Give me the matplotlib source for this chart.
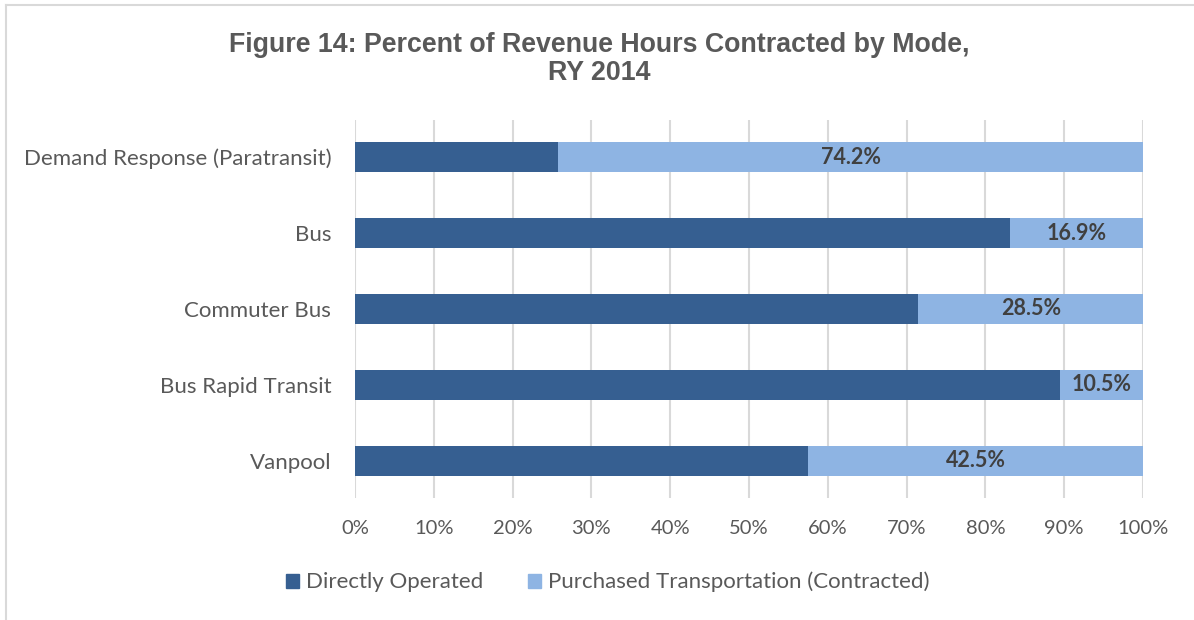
import matplotlib.pyplot as plt
from matplotlib.patches import Patch
from matplotlib.lines import Line2D
import numpy as np

# data
modes = ['Demand Response (Paratransit)', 'Bus', 'Commuter Bus',
         'Bus Rapid Transit', 'Vanpool']
contracted = [74.2, 16.9, 28.5, 10.5, 42.5]
direct = [round(100 - v, 1) for v in contracted]
xticks = [0, 10, 20, 30, 40, 50, 60, 70, 80, 90, 100]

dark = '#365F91'
light = '#8EB4E3'
label_font = 'Lato'

fig = plt.figure(figsize=(11.94, 6.2), dpi=100)
ax = fig.add_axes([0.2973, 0.1968, 0.6600, 0.6097])

y = np.arange(len(modes))
h = 0.39
ax.barh(y, direct, height=h, color=dark, zorder=3)
ax.barh(y, contracted, height=h, left=direct, color=light, zorder=3)

# data labels on contracted part
for yi, d, c in zip(y, direct, contracted):
    ax.text(d + c / 2, yi, f'{c:.1f}%', ha='center', va='center',
            fontsize=15.5, fontweight='bold', color='#404040',
            family=label_font, zorder=4)

ax.set_xlim(0, 100)
ax.set_ylim(len(modes) - 0.51, -0.49)
ax.set_xticks(xticks)
ax.set_xticklabels([f'{t}%' for t in xticks])
ax.set_yticks(y)
ax.set_yticklabels(modes)
ax.tick_params(axis='both', length=0, colors='#595959')
ax.tick_params(axis='y', pad=17, labelsize=16)
ax.tick_params(axis='x', pad=16, labelsize=14.5)
for lab in ax.get_xticklabels() + ax.get_yticklabels():
    lab.set_family(label_font)
ax.xaxis.grid(True, color='#D9D9D9', linewidth=1.5, zorder=0)
for s in ax.spines.values():
    s.set_visible(False)

fig.text(0.502, 0.905, 'Figure 14: Percent of Revenue Hours Contracted by Mode,\nRY 2014',
         ha='center', va='center', fontsize=19.3, fontweight='bold',
         color='#595959', family='Liberation Sans', linespacing=1.1)

handles = [Patch(color=dark, label='Directly Operated'),
           Patch(color=light, label='Purchased Transportation (Contracted)')]
leg = fig.legend(handles=handles, loc='center', bbox_to_anchor=(0.509, 0.061),
                 ncol=2, frameon=False, handlelength=0.6, handleheight=0.6,
                 handletextpad=0.3, columnspacing=2.0,
                 prop={'family': label_font, 'size': 16})
for t in leg.get_texts():
    t.set_color('#595959')

# chart frame (left and top edges visible)
fig.add_artist(Line2D([0.005, 0.005], [0.0, 0.992], color='#D9D9D9',
                      linewidth=1.5, transform=fig.transFigure))
fig.add_artist(Line2D([0.005, 1.0], [0.992, 0.992], color='#D9D9D9',
                      linewidth=1.5, transform=fig.transFigure))

fig.savefig('out.png', dpi=100)
